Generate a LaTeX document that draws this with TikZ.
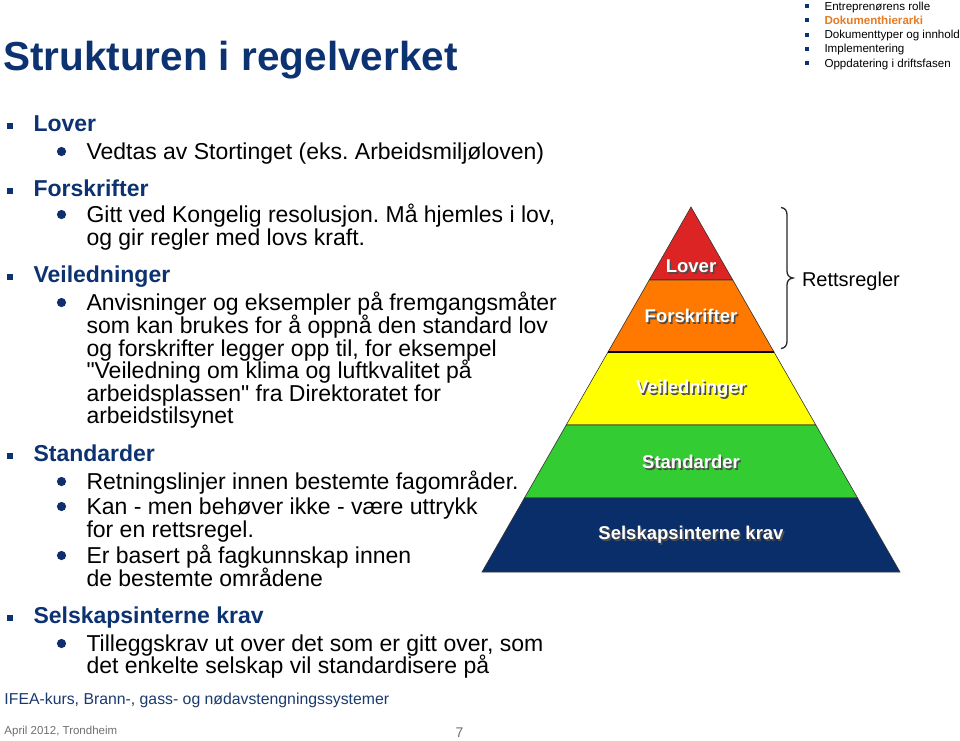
\documentclass[tikz,border=0pt]{standalone}
\usepackage{fontspec}
\setmainfont{Liberation Sans}[Ligatures=TeXOff]
\frenchspacing
\definecolor{titleblue}{HTML}{0C3272}
\definecolor{dotblue}{HTML}{0E2F6B}
\definecolor{menuorange}{HTML}{E37B24}
\definecolor{footblue}{HTML}{1A3A6E}
\definecolor{footgray}{HTML}{6E6E6E}
\definecolor{pyred}{HTML}{DC2424}
\definecolor{pyorange}{HTML}{FF7800}
\definecolor{pyyellow}{HTML}{FFFF00}
\definecolor{pygreen}{HTML}{33CC33}
\definecolor{pyblue}{HTML}{0A2E6A}
\newcommand\shadowtxt[1]{\leavevmode\rlap{\kern1.6pt\raisebox{-1.6pt}{\color{black!70}#1}}#1}
\tikzset{
  txt/.style={anchor=base west, inner sep=0pt, outer sep=0pt},
  head/.style={txt, font=\fontsize{23}{23}\selectfont\bfseries, text=titleblue},
  body/.style={txt, font=\fontsize{23}{23}\selectfont, text=black},
  menu/.style={txt, font=\fontsize{11.6}{11.6}\selectfont, text=black},
  sqbullet/.style={fill=titleblue, draw=none},
  dotbullet/.style={fill=dotblue, draw=none},
  layer/.style={draw=black!80, line width=0.6pt},
  plabel/.style={inner sep=0pt, text=white, font=\fontsize{18.5}{18.5}\selectfont\bfseries}
}
\begin{document}
\begin{tikzpicture}[x=1pt,y=-1pt]
\useasboundingbox (0,0) rectangle (960,740);

% title
\node[txt, text=titleblue, font=\fontsize{40.5}{40.5}\selectfont\bfseries] (title) at (3,70) {Strukturen i regelverket};

% menu
\foreach \yy/\nm/\tx in {10/m1/{Entreprenørens rolle},38.6/m3/{Dokumenttyper og innhold},52.9/m4/{Implementering},67.2/m5/{Oppdatering i driftsfasen}}{
  \fill[sqbullet] (805,\yy-6) rectangle (809,\yy-2);
  \node[menu] (\nm) at (824.5,\yy) {\tx};
}
\fill[sqbullet] (805,24.3-6) rectangle (809,24.3-2);
\node[menu, text=menuorange, font=\fontsize{11.6}{11.6}\selectfont\bfseries] (m2) at (824.5,24.3) {Dokumenthierarki};

% headings
\foreach \yy/\nm/\tx in {131/h1/Lover,196/h2/Forskrifter,282/h3/Veiledninger,461/h4/Standarder,623/h5/{Selskapsinterne krav}}{
  \fill[sqbullet] (7,\yy-8.5) rectangle (13,\yy-2.5);
  \node[head] (\nm) at (33.5,\yy) {\tx};
}

% round bullets
\foreach \yy in {159,222,310,489,514,563,651}{
  \fill[dotbullet] (61.5,\yy-7.5) circle (4.6);
}

% body lines
\node[body] (b1) at (86.5,159) {Vedtas av Stortinget (eks. Arbeidsmiljøloven)};
\node[body] (b2) at (86.5,222) {Gitt ved Kongelig resolusjon. Må hjemles i lov,};
\node[body] (b3) at (86.5,245) {og gir regler med lovs kraft.};
\node[body] (b4) at (86.5,310) {Anvisninger og eksempler på fremgangsmåter};
\node[body] (b5) at (86.5,333) {som kan brukes for å oppnå den standard lov};
\node[body] (b6) at (86.5,356) {og forskrifter legger opp til, for eksempel};
\node[body] (b7) at (86.5,378) {"Veiledning om klima og luftkvalitet på};
\node[body] (b8) at (86.5,401) {arbeidsplassen" fra Direktoratet for};
\node[body] (b9) at (86.5,423) {arbeidstilsynet};
\node[body] (b10) at (86.5,489) {Retningslinjer innen bestemte fagområder.};
\node[body] (b11) at (86.5,514) {Kan - men behøver ikke - være uttrykk};
\node[body] (b12) at (86.5,537) {for en rettsregel.};
\node[body] (b13) at (86.5,563) {Er basert på fagkunnskap innen};
\node[body] (b14) at (86.5,586) {de bestemte områdene};
\node[body] (b15) at (86.5,651) {Tilleggskrav ut over det som er gitt over, som};
\node[body] (b16) at (86.5,673) {det enkelte selskap vil standardisere på};

% pyramid
\coordinate (apex) at (691,207);
\coordinate (l1) at (649.2,280); \coordinate (r1) at (732.8,280);
\coordinate (l2) at (608,352);   \coordinate (r2) at (774,352);
\coordinate (l3) at (566.2,425); \coordinate (r3) at (815.8,425);
\coordinate (l4) at (524.4,498); \coordinate (r4) at (857.6,498);
\coordinate (l5) at (482,572);   \coordinate (r5) at (900,572);
\filldraw[layer, fill=pyred] (apex) -- (r1) -- (l1) -- cycle;
\filldraw[layer, fill=pyorange] (l1) -- (r1) -- (r2) -- (l2) -- cycle;
\filldraw[layer, fill=pyyellow] (l2) -- (r2) -- (r3) -- (l3) -- cycle;
\filldraw[layer, fill=pygreen] (l3) -- (r3) -- (r4) -- (l4) -- cycle;
\filldraw[layer, fill=pyblue] (l4) -- (r4) -- (r5) -- (l5) -- cycle;
\draw[line width=2.6pt, black] (l2) -- (r2);

\node[plabel] (p1) at (691,267) {\shadowtxt{Lover}};
\node[plabel] (p2) at (691,317) {\shadowtxt{Forskrifter}};
\node[plabel] (p3) at (691,390) {\shadowtxt{Veiledninger}};
\node[plabel] (p4) at (691,463) {\shadowtxt{Standarder}};
\node[plabel] (p5) at (691,536) {\shadowtxt{Selskapsinterne krav}};

% brace
\draw[line width=1.3pt, black!85] (781,207.5) .. controls (785,208) and (787,210.5) .. (787,215) -- (787,271) .. controls (787,275) and (789,277.5) .. (793,278) .. controls (789,278.5) and (787,281) .. (787,285) -- (787,341) .. controls (787,345.5) and (785,348) .. (781,348.5);
\node[txt, font=\fontsize{20}{20}\selectfont] (rett) at (802,286) {Rettsregler};

% footer
\node[txt, text=footblue, font=\fontsize{15.8}{15.8}\selectfont] (foot) at (4.5,704) {IFEA-kurs, Brann-, gass- og nødavstengningssystemer};
\node[txt, text=footgray, font=\fontsize{11.5}{11.5}\selectfont] (date) at (4.5,734) {April 2012, Trondheim};
\node[txt, text=footgray, font=\fontsize{14}{14}\selectfont] (pnum) at (455.5,737) {7};
\end{tikzpicture}
\end{document}
